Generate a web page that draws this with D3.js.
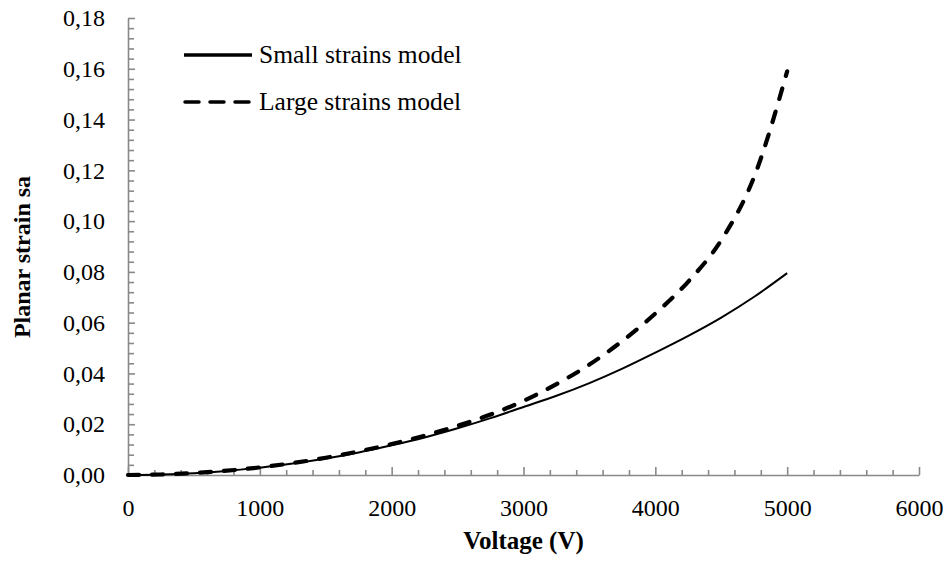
<!doctype html>
<html>
<head>
    <meta charset="utf-8">
    <style>
        body {
            margin: 0;
            background: #fff;
        }

        .axis path,
        .axis line {
            stroke: #898989;
            stroke-width: 1.6;
        }
    </style>
    <script src="https://d3js.org/d3.v7.min.js"></script>
</head>
<body>
<svg width="946" height="577"></svg>
<script>
    // voltage samples (V)
    const voltage = [0, 250, 500, 750, 1000, 1250, 1500, 1750, 2000, 2250, 2500,
                     2750, 3000, 3250, 3500, 3750, 4000, 4250, 4500, 4750, 5000]

    // planar strain
    const smallStrain = [0, 0.0002, 0.0007, 0.0016, 0.0029, 0.0045, 0.0065, 0.0089, 0.0117, 0.0148, 0.0184,
                         0.0224, 0.0268, 0.0312, 0.0362, 0.0419, 0.0482, 0.0548, 0.0620, 0.0702, 0.0795]
    const largeStrain = [0, 0.0002, 0.0008, 0.0017, 0.0030, 0.0047, 0.0068, 0.0093, 0.0122, 0.0155, 0.0194,
                         0.0238, 0.0292, 0.0358, 0.0435, 0.0528, 0.0636, 0.0762, 0.0925, 0.1175, 0.1590]

    const seriesNames = ['Small strains model', 'Large strains model']

    const xTicks = [0, 1000, 2000, 3000, 4000, 5000, 6000]
    const yTicks = [0, 0.02, 0.04, 0.06, 0.08, 0.10, 0.12, 0.14, 0.16, 0.18]

    const serif = "'Liberation Serif'"

    const svg = d3.select('svg')

    const plotLeft = 128, plotRight = 919, plotTop = 18, plotBottom = 475

    const x = d3.scaleLinear().domain([0, 6000]).range([plotLeft, plotRight])
    const y = d3.scaleLinear().domain([0, 0.18]).range([plotBottom, plotTop])

    const comma = d3.formatLocale({decimal: ',', thousands: '', grouping: [3], currency: ['', '']})
    const yFmt = comma.format('.2f')

    const xMinor = d3.range(0, 6001, 200).filter(v => v % 1000 !== 0)
    const yMinor = d3.range(0, 46).map(i => +(i * 0.004).toFixed(3))
        .filter(v => Math.round(v * 1000) % 20 !== 0)

    // minor ticks first
    svg.append('g')
        .attr('class', 'axis')
        .attr('transform', `translate(0, ${plotBottom})`)
        .call(d3.axisBottom(x).tickValues(xMinor).tickSize(-5).tickFormat(''))
        .call(g => g.select('.domain').remove())

    svg.append('g')
        .attr('class', 'axis')
        .attr('transform', `translate(${plotLeft}, 0)`)
        .call(d3.axisLeft(y).tickValues(yMinor).tickSize(-6).tickFormat(''))
        .call(g => g.select('.domain').remove())

    // major ticks + labels
    svg.append('g')
        .attr('class', 'axis')
        .attr('transform', `translate(0, ${plotBottom})`)
        .call(d3.axisBottom(x).tickValues(xTicks).tickSizeInner(-8).tickSizeOuter(0).tickPadding(33).tickFormat(d3.format('d')))
        .call(g => g.selectAll('text').attr('dy', '0.32em'))

    svg.append('g')
        .attr('class', 'axis')
        .attr('transform', `translate(${plotLeft}, 0)`)
        .call(d3.axisLeft(y).tickValues(yTicks).tickSizeInner(-7).tickSizeOuter(0).tickPadding(23).tickFormat(yFmt))

    svg.selectAll('.axis')
        .attr('font-family', null)
        .attr('font-size', null)

    svg.selectAll('.axis text')
        .attr('fill', '#000')
        .style('font-family', serif)
        .style('font-size', '24px')

    const line = d3.line()
        .x(d => x(d[0]))
        .y(d => y(d[1]))
        .curve(d3.curveMonotoneX)

    svg.append('path')
        .datum(voltage.map((v, i) => [v, smallStrain[i]]))
        .attr('d', line)
        .attr('fill', 'none')
        .attr('stroke', '#000')
        .attr('stroke-width', 2)

    svg.append('path')
        .datum(voltage.map((v, i) => [v, largeStrain[i]]))
        .attr('d', line)
        .attr('fill', 'none')
        .attr('stroke', '#000')
        .attr('stroke-width', 4.2)
        .attr('stroke-linecap', 'round')
        .attr('stroke-dasharray', '11 13')

    // legend
    const legend = svg.append('g')
    legend.append('line')
        .attr('x1', 184).attr('x2', 252).attr('y1', 55).attr('y2', 55)
        .attr('stroke', '#000').attr('stroke-width', 3.5)
    legend.append('line')
        .attr('x1', 185).attr('x2', 252).attr('y1', 102).attr('y2', 102)
        .attr('stroke', '#000').attr('stroke-width', 3.5)
        .attr('stroke-linecap', 'round')
        .attr('stroke-dasharray', '14 11')
    legend.selectAll('text.legend')
        .data(seriesNames)
        .enter()
        .append('text')
        .attr('class', 'legend')
        .attr('x', 259)
        .attr('y', (d, i) => 63 + i * 47)
        .style('font-family', serif)
        .style('font-size', '25.5px')
        .text(d => d)

    svg.append('text')
        .attr('x', (plotLeft + plotRight) / 2)
        .attr('y', 549)
        .attr('text-anchor', 'middle')
        .style('font-family', serif)
        .style('font-size', '25px')
        .style('font-weight', 'bold')
        .text('Voltage (V)')

    svg.append('text')
        .attr('transform', 'translate(30, 257) rotate(-90)')
        .attr('text-anchor', 'middle')
        .style('font-family', serif)
        .style('font-size', '24px')
        .style('font-weight', 'bold')
        .text('Planar strain sa')
</script>
</body>
</html>
